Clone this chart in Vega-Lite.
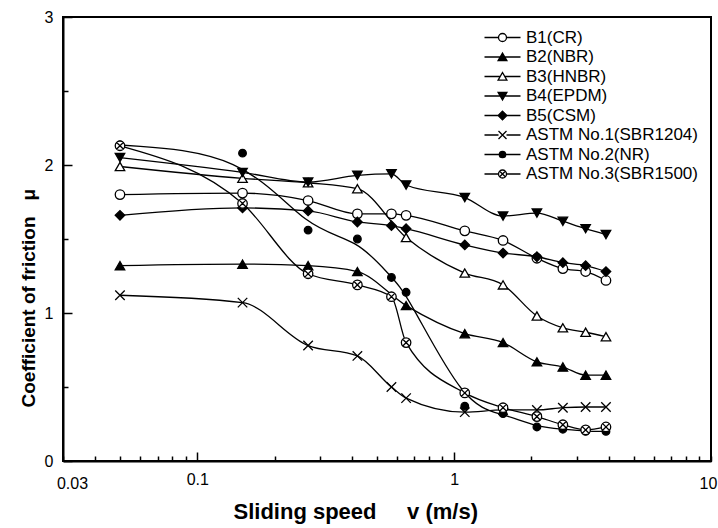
{
  "$schema": "https://vega.github.io/schema/vega-lite/v6.json",
  "width": 648,
  "height": 444,
  "autosize": {"type": "none"},
  "padding": {"left": 63, "top": 17, "right": 7, "bottom": 67},
  "background": "white",
  "config": {
    "view": {"stroke": "black", "strokeWidth": 2},
    "font": "Liberation Sans",
    "axis": {
      "domainColor": "black", "domainWidth": 2,
      "tickColor": "black", "tickWidth": 1.5,
      "labelColor": "black", "labelFont": "Liberation Sans", "labelFontSize": 16,
      "titleColor": "black", "titleFont": "Liberation Sans", "titleFontWeight": "bold",
      "grid": false, "labelOverlap": false, "labelFlush": false
    }
  },
  "data": {"values": [
    {"series": "B1(CR)", "v": 0.05, "mu": 1.80}, {"series": "B1(CR)", "v": 0.15, "mu": 1.81}, {"series": "B1(CR)", "v": 0.27, "mu": 1.76}, {"series": "B1(CR)", "v": 0.42, "mu": 1.67}, {"series": "B1(CR)", "v": 0.57, "mu": 1.67}, {"series": "B1(CR)", "v": 0.65, "mu": 1.66}, {"series": "B1(CR)", "v": 1.1, "mu": 1.555}, {"series": "B1(CR)", "v": 1.55, "mu": 1.49}, {"series": "B1(CR)", "v": 2.1, "mu": 1.37}, {"series": "B1(CR)", "v": 2.65, "mu": 1.30}, {"series": "B1(CR)", "v": 3.25, "mu": 1.28}, {"series": "B1(CR)", "v": 3.9, "mu": 1.22},
    {"series": "B2(NBR)", "v": 0.05, "mu": 1.32}, {"series": "B2(NBR)", "v": 0.15, "mu": 1.33}, {"series": "B2(NBR)", "v": 0.27, "mu": 1.32}, {"series": "B2(NBR)", "v": 0.42, "mu": 1.28}, {"series": "B2(NBR)", "v": 0.65, "mu": 1.05}, {"series": "B2(NBR)", "v": 1.1, "mu": 0.86}, {"series": "B2(NBR)", "v": 1.55, "mu": 0.80}, {"series": "B2(NBR)", "v": 2.1, "mu": 0.67}, {"series": "B2(NBR)", "v": 2.65, "mu": 0.635}, {"series": "B2(NBR)", "v": 3.25, "mu": 0.58}, {"series": "B2(NBR)", "v": 3.9, "mu": 0.58},
    {"series": "B3(HNBR)", "v": 0.05, "mu": 1.99}, {"series": "B3(HNBR)", "v": 0.15, "mu": 1.91}, {"series": "B3(HNBR)", "v": 0.27, "mu": 1.88}, {"series": "B3(HNBR)", "v": 0.42, "mu": 1.84}, {"series": "B3(HNBR)", "v": 0.65, "mu": 1.51}, {"series": "B3(HNBR)", "v": 1.1, "mu": 1.27}, {"series": "B3(HNBR)", "v": 1.55, "mu": 1.19}, {"series": "B3(HNBR)", "v": 2.1, "mu": 0.98}, {"series": "B3(HNBR)", "v": 2.65, "mu": 0.90}, {"series": "B3(HNBR)", "v": 3.25, "mu": 0.87}, {"series": "B3(HNBR)", "v": 3.9, "mu": 0.84},
    {"series": "B4(EPDM)", "v": 0.05, "mu": 2.05}, {"series": "B4(EPDM)", "v": 0.15, "mu": 1.95}, {"series": "B4(EPDM)", "v": 0.27, "mu": 1.885}, {"series": "B4(EPDM)", "v": 0.42, "mu": 1.93}, {"series": "B4(EPDM)", "v": 0.57, "mu": 1.94}, {"series": "B4(EPDM)", "v": 0.65, "mu": 1.865}, {"series": "B4(EPDM)", "v": 1.1, "mu": 1.78}, {"series": "B4(EPDM)", "v": 1.55, "mu": 1.655}, {"series": "B4(EPDM)", "v": 2.1, "mu": 1.675}, {"series": "B4(EPDM)", "v": 2.65, "mu": 1.62}, {"series": "B4(EPDM)", "v": 3.25, "mu": 1.57}, {"series": "B4(EPDM)", "v": 3.9, "mu": 1.53},
    {"series": "B5(CSM)", "v": 0.05, "mu": 1.66}, {"series": "B5(CSM)", "v": 0.15, "mu": 1.71}, {"series": "B5(CSM)", "v": 0.27, "mu": 1.69}, {"series": "B5(CSM)", "v": 0.42, "mu": 1.615}, {"series": "B5(CSM)", "v": 0.57, "mu": 1.59}, {"series": "B5(CSM)", "v": 0.65, "mu": 1.57}, {"series": "B5(CSM)", "v": 1.1, "mu": 1.46}, {"series": "B5(CSM)", "v": 1.55, "mu": 1.405}, {"series": "B5(CSM)", "v": 2.1, "mu": 1.38}, {"series": "B5(CSM)", "v": 2.65, "mu": 1.34}, {"series": "B5(CSM)", "v": 3.25, "mu": 1.32}, {"series": "B5(CSM)", "v": 3.9, "mu": 1.28},
    {"series": "ASTM No.1(SBR1204)", "v": 0.05, "mu": 1.12}, {"series": "ASTM No.1(SBR1204)", "v": 0.15, "mu": 1.07}, {"series": "ASTM No.1(SBR1204)", "v": 0.27, "mu": 0.78}, {"series": "ASTM No.1(SBR1204)", "v": 0.42, "mu": 0.71}, {"series": "ASTM No.1(SBR1204)", "v": 0.57, "mu": 0.50}, {"series": "ASTM No.1(SBR1204)", "v": 0.65, "mu": 0.425}, {"series": "ASTM No.1(SBR1204)", "v": 1.1, "mu": 0.33}, {"series": "ASTM No.1(SBR1204)", "v": 1.55, "mu": 0.345}, {"series": "ASTM No.1(SBR1204)", "v": 2.1, "mu": 0.345}, {"series": "ASTM No.1(SBR1204)", "v": 2.65, "mu": 0.36}, {"series": "ASTM No.1(SBR1204)", "v": 3.25, "mu": 0.365}, {"series": "ASTM No.1(SBR1204)", "v": 3.9, "mu": 0.365},
    {"series": "ASTM No.2(NR)", "v": 0.05, "mu": 2.135}, {"series": "ASTM No.2(NR)", "v": 0.15, "mu": 2.08}, {"series": "ASTM No.2(NR)", "v": 0.27, "mu": 1.56}, {"series": "ASTM No.2(NR)", "v": 0.42, "mu": 1.50}, {"series": "ASTM No.2(NR)", "v": 0.57, "mu": 1.24}, {"series": "ASTM No.2(NR)", "v": 0.65, "mu": 1.14}, {"series": "ASTM No.2(NR)", "v": 1.1, "mu": 0.37}, {"series": "ASTM No.2(NR)", "v": 1.55, "mu": 0.32}, {"series": "ASTM No.2(NR)", "v": 2.1, "mu": 0.23}, {"series": "ASTM No.2(NR)", "v": 2.65, "mu": 0.215}, {"series": "ASTM No.2(NR)", "v": 3.25, "mu": 0.20}, {"series": "ASTM No.2(NR)", "v": 3.9, "mu": 0.20},
    {"series": "ASTM No.3(SBR1500)", "v": 0.05, "mu": 2.13}, {"series": "ASTM No.3(SBR1500)", "v": 0.15, "mu": 1.74}, {"series": "ASTM No.3(SBR1500)", "v": 0.27, "mu": 1.265}, {"series": "ASTM No.3(SBR1500)", "v": 0.42, "mu": 1.19}, {"series": "ASTM No.3(SBR1500)", "v": 0.57, "mu": 1.11}, {"series": "ASTM No.3(SBR1500)", "v": 0.65, "mu": 0.80}, {"series": "ASTM No.3(SBR1500)", "v": 1.1, "mu": 0.46}, {"series": "ASTM No.3(SBR1500)", "v": 1.55, "mu": 0.36}, {"series": "ASTM No.3(SBR1500)", "v": 2.1, "mu": 0.30}, {"series": "ASTM No.3(SBR1500)", "v": 2.65, "mu": 0.245}, {"series": "ASTM No.3(SBR1500)", "v": 3.25, "mu": 0.21}, {"series": "ASTM No.3(SBR1500)", "v": 3.9, "mu": 0.23}
  ]},
  "encoding": {
    "x": {"field": "v", "type": "quantitative",
      "scale": {"type": "log", "domain": [0.03, 10], "nice": false},
      "axis": {"title": "Sliding speed\u00a0\u00a0\u00a0\u00a0\u00a0v\u00a0(m/s)",
        "values": [0.03, 0.04, 0.05, 0.06, 0.07, 0.08, 0.09, 0.1, 0.2, 0.3, 0.4, 0.5, 0.6, 0.7, 0.8, 0.9, 1, 2, 3, 4, 5, 6, 7, 8, 9, 10],
        "labelExpr": "datum.value == 0.03 || datum.value == 0.1 || datum.value == 1 || datum.value == 10 ? format(datum.value, '~g') : ''",
        "tickSize": {"condition": {"test": "datum.value == 0.1 || datum.value == 1", "value": -9}, "value": -5},
        "labelOffset": {"condition": [{"test": "datum.value == 0.03", "value": 9}, {"test": "datum.value == 10", "value": -3}], "value": 0},
        "labelPadding": 19, "titleFontSize": 22,
        "titleX": 170, "titleY": 57, "titleAlign": "left", "titleBaseline": "alphabetic", "titleAngle": 0}},
    "y": {"field": "mu", "type": "quantitative",
      "scale": {"domain": [0, 3], "nice": false},
      "axis": {"title": "Coefficient of friction\u00a0\u00a0\u00a0μ",
        "values": [0, 0.5, 1, 1.5, 2, 2.5, 3],
        "labelExpr": "datum.value % 1 == 0 ? format(datum.value, 'd') : ''",
        "tickSize": {"condition": {"test": "datum.value % 1 == 0", "value": -9}, "value": -5},
        "labelPadding": 19, "titleFontSize": 19,
        "titleX": -29, "titleY": 390, "titleAlign": "left", "titleBaseline": "alphabetic", "titleAngle": -90}}
  },
  "layer": [
    {
      "transform": [{"filter": "datum.series != 'ASTM No.2(NR)'"}],
      "mark": {"type": "line", "interpolate": "monotone", "color": "black", "strokeWidth": 1.3},
      "encoding": {"detail": {"field": "series"}}
    },
    {
      "transform": [{"filter": "datum.series == 'ASTM No.2(NR)'"}],
      "mark": {"type": "line", "interpolate": "basis", "color": "black", "strokeWidth": 1.3},
      "encoding": {"detail": {"field": "series"}}
    },
    {
      "mark": {"type": "point", "filled": true, "stroke": "black", "strokeWidth": 1.3, "size": 90, "opacity": 1},
      "encoding": {
        "shape": {"field": "series", "type": "nominal", "legend": null,
          "scale": {"domain": ["B1(CR)", "B2(NBR)", "B3(HNBR)", "B4(EPDM)", "B5(CSM)", "ASTM No.1(SBR1204)", "ASTM No.2(NR)", "ASTM No.3(SBR1500)"],
            "range": ["circle", "triangle-up", "triangle-up", "triangle-down", "diamond", "M-1,-1L1,1M-1,1L1,-1", "M0.8,0A0.8,0.8,0,1,1,-0.8,0A0.8,0.8,0,1,1,0.8,0Z", "M1,0A1,1,0,1,1,-1,0A1,1,0,1,1,1,0ZM-0.7,-0.7L0.7,0.7M-0.7,0.7L0.7,-0.7"]}},
        "fill": {"field": "series", "type": "nominal", "legend": null,
          "scale": {"domain": ["B1(CR)", "B2(NBR)", "B3(HNBR)", "B4(EPDM)", "B5(CSM)", "ASTM No.1(SBR1204)", "ASTM No.2(NR)", "ASTM No.3(SBR1500)"],
            "range": ["white", "black", "white", "black", "black", "white", "black", "white"]}}
      }
    },
    {
      "data": {"values": []},
      "mark": {"type": "point", "filled": true, "strokeWidth": 1.3, "opacity": 1},
      "encoding": {
        "shape": {"field": "series", "type": "nominal",
          "scale": {"domain": ["B1(CR)", "B2(NBR)", "B3(HNBR)", "B4(EPDM)", "B5(CSM)", "ASTM No.1(SBR1204)", "ASTM No.2(NR)", "ASTM No.3(SBR1500)"],
            "range": [
              "M1,0A1,1,0,1,1,-1,0A1,1,0,1,1,1,0ZM-4.5,0H-1M1,0H4.5",
              "M0,-1L1.1,0.9L-1.1,0.9ZM-4.5,0H-0.5M0.5,0H4.5",
              "M0,-1L1.1,0.9L-1.1,0.9ZM-4.5,0H-0.5M0.5,0H4.5",
              "M0,1L1.1,-0.9L-1.1,-0.9ZM-4.5,0H-0.5M0.5,0H4.5",
              "M0,-1.1L1.1,0L0,1.1L-1.1,0ZM-4.5,0H-1.1M1.1,0H4.5",
              "M-1,-1L1,1M-1,1L1,-1M-4.5,0H-1M1,0H4.5",
              "M0.8,0A0.8,0.8,0,1,1,-0.8,0A0.8,0.8,0,1,1,0.8,0ZM-4.5,0H-0.8M0.8,0H4.5",
              "M1,0A1,1,0,1,1,-1,0A1,1,0,1,1,1,0ZM-0.7,-0.7L0.7,0.7M-0.7,0.7L0.7,-0.7M-4.5,0H-1M1,0H4.5"]},
          "legend": {"title": null, "orient": "none", "legendX": 431, "legendY": 12, "padding": 0,
            "symbolSize": 64, "symbolStrokeWidth": 1.3,
            "labelFont": "Liberation Sans", "labelFontSize": 17, "labelColor": "black", "labelOffset": 15,
            "rowPadding": 1.5, "labelLimit": 300}},
        "fill": {"field": "series", "type": "nominal",
          "scale": {"domain": ["B1(CR)", "B2(NBR)", "B3(HNBR)", "B4(EPDM)", "B5(CSM)", "ASTM No.1(SBR1204)", "ASTM No.2(NR)", "ASTM No.3(SBR1500)"],
            "range": ["white", "black", "white", "black", "black", "white", "black", "white"]},
          "legend": {"title": null, "orient": "none", "legendX": 431, "legendY": 12, "padding": 0,
            "symbolSize": 64, "symbolStrokeWidth": 1.3,
            "labelFont": "Liberation Sans", "labelFontSize": 17, "labelColor": "black", "labelOffset": 15,
            "rowPadding": 1.5, "labelLimit": 300}},
        "stroke": {"field": "series", "type": "nominal",
          "scale": {"domain": ["B1(CR)", "B2(NBR)", "B3(HNBR)", "B4(EPDM)", "B5(CSM)", "ASTM No.1(SBR1204)", "ASTM No.2(NR)", "ASTM No.3(SBR1500)"],
            "range": ["black", "black", "black", "black", "black", "black", "black", "black"]},
          "legend": {"title": null, "orient": "none", "legendX": 431, "legendY": 12, "padding": 0,
            "symbolSize": 64, "symbolStrokeWidth": 1.3,
            "labelFont": "Liberation Sans", "labelFontSize": 17, "labelColor": "black", "labelOffset": 15,
            "rowPadding": 1.5, "labelLimit": 300}}
      }
    }
  ],
  "resolve": {"scale": {"shape": "independent", "fill": "independent", "stroke": "independent"}, "legend": {"shape": "independent", "fill": "independent", "stroke": "independent"}}
}
